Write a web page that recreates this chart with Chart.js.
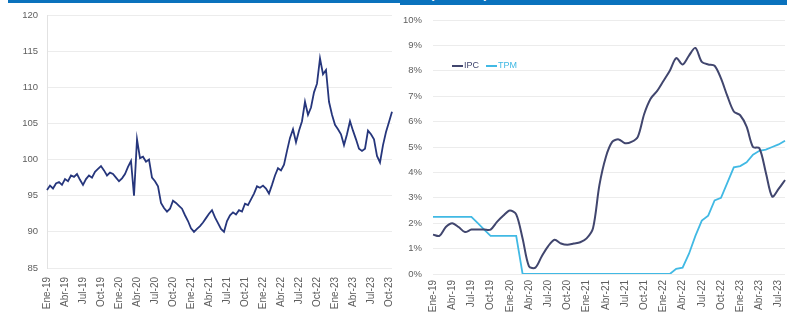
<!DOCTYPE html>
<html lang="es">
<head>
<meta charset="utf-8">
<title>Tipo de cambio, IPC y TPM</title>
<script src="https://cdn.jsdelivr.net/npm/chart.js@4/dist/chart.umd.min.js"></script>
<style>
  html, body { margin: 0; padding: 0; background: #ffffff; }
  #page { position: relative; width: 787px; height: 320px; overflow: hidden; background: #ffffff; }
  .band { position: absolute; background: #0a72bd; }
  #bandLeft { left: 8px; top: 0; width: 392px; height: 3px; }
  #bandRight { left: 400px; top: 0; width: 387px; height: 5px; overflow: hidden; }
  #bandTitle { position: absolute; left: 30px; top: -13px; font: bold 13px/13px "Liberation Sans", Arial, sans-serif; color: #ffffff; white-space: nowrap; }
  #leftBox { position: absolute; left: 0; top: 0; width: 397px; height: 320px; }
  #rightBox { position: absolute; left: 397px; top: 0; width: 390px; height: 320px; }
  #legend { position: absolute; left: 452px; top: 59px; font: 9px/12px "Liberation Sans", Arial, sans-serif; white-space: nowrap; }
  #legend span.item { display: inline-block; margin-right: 7px; }
  #legend i { display: inline-block; width: 11px; height: 2px; vertical-align: middle; margin-right: 1px; }
</style>
</head>
<body>
<div id="page">
  <div id="leftBox"><canvas id="leftChart" width="397" height="320"></canvas></div>
  <div id="rightBox"><canvas id="rightChart" width="390" height="320"></canvas></div>
  <div class="band" id="bandLeft"></div>
  <div class="band" id="bandRight"><div id="bandTitle">(% anual)</div></div>
  <div id="legend"></div>
</div>
<script>
// Month abbreviations used for the category labels
const mesesAbr = ['Ene','Feb','Mar','Abr','May','Jun','Jul','Ago','Sep','Oct','Nov','Dic'];

// Left panel: exchange-rate index, two readings per month, Ene-19 .. Oct-23
const indiceTC = [
  95.8, 96.4, 96.0, 96.7, 96.9, 96.5, 97.3, 97.0, 97.8, 97.6,
  98.0, 97.2, 96.5, 97.3, 97.8, 97.5, 98.3, 98.7, 99.1, 98.5,
  97.8, 98.2, 98.0, 97.5, 97.0, 97.4, 98.0, 99.0, 99.8, 95.0,
  102.8, 100.2, 100.4, 99.7, 100.0, 97.5, 97.0, 96.3, 94.0, 93.3,
  92.8, 93.2, 94.3, 94.0, 93.6, 93.2, 92.3, 91.5, 90.5, 90.0,
  90.4, 90.8, 91.3, 91.9, 92.5, 93.0, 92.0, 91.2, 90.4, 90.0,
  91.5, 92.3, 92.7, 92.4, 93.0, 92.8, 93.9, 93.7, 94.5, 95.3,
  96.3, 96.1, 96.4, 96.0, 95.3, 96.5, 97.8, 98.8, 98.5, 99.3,
  101.2, 103.0, 104.2, 102.4, 104.0, 105.3, 108.0, 106.2, 107.2, 109.3,
  110.5, 114.0, 111.8, 112.4, 108.0, 106.2, 104.8, 104.2, 103.5, 102.0,
  103.5, 105.3, 104.0, 102.8, 101.5, 101.2, 101.5, 104.0, 103.5, 102.8,
  100.5, 99.6, 102.0, 103.8, 105.2, 106.6
];
const indiceTicks = [85, 90, 95, 100, 105, 110, 115, 120];

// Right panel: monthly inflation (IPC) and policy rate (TPM), % , Ene-19 .. Ago-23
const ipc = [
  1.55, 1.5, 1.85, 2.0, 1.85, 1.65, 1.75, 1.75, 1.75, 1.75,
  2.05, 2.3, 2.5, 2.35, 1.4, 0.3, 0.25, 0.7, 1.1, 1.35,
  1.2, 1.15, 1.2, 1.25, 1.4, 1.8, 3.5, 4.6, 5.2, 5.3,
  5.15, 5.2, 5.4, 6.3, 6.9, 7.2, 7.6, 8.0, 8.5, 8.25,
  8.6, 8.9, 8.35, 8.25, 8.2, 7.7, 7.0, 6.4, 6.25, 5.8,
  5.0, 4.95, 4.0, 3.05, 3.35, 3.7
];
const tpm = [
  2.25, 2.25, 2.25, 2.25, 2.25, 2.25, 2.25, 2.0, 1.75, 1.5,
  1.5, 1.5, 1.5, 1.5, 0, 0, 0, 0, 0, 0,
  0, 0, 0, 0, 0, 0, 0, 0, 0, 0,
  0, 0, 0, 0, 0, 0, 0, 0, 0.2, 0.25,
  0.8, 1.5, 2.1, 2.3, 2.9, 3.0, 3.6, 4.2, 4.25, 4.4,
  4.7, 4.85, 4.9, 5.0, 5.1, 5.25
];
const pctTicks = [0, 1, 2, 3, 4, 5, 6, 7, 8, 9, 10];

const colores = { indice: '#26367c', ipc: '#41466e', tpm: '#41b9e4', grid: '#ececec', texto: '#5e5e5e' };
const fuente = { family: '"Liberation Sans", Arial, sans-serif', size: 10 };

// Category labels: "Mmm-AA", repeated per reading within the month
function etiquetas(nMeses, porMes) {
  const out = [];
  for (let m = 0; m < nMeses; m++) {
    const lab = mesesAbr[m % 12] + '-' + String(19 + Math.floor(m / 12));
    for (let k = 0; k < porMes; k++) out.push(lab);
  }
  return out;
}
const catIndice = etiquetas(58, 2);
const catTasas = etiquetas(56, 1);

// Shared x axis: quarterly labels, vertical text, no extra side padding
function ejeX(cada, padding, alto) {
  return {
    type: 'category',
    offset: false,
    grid: { display: false, drawTicks: false },
    border: { display: false },
    afterBuildTicks: s => { s.ticks = s.ticks.filter(t => t.value % cada === 0); },
    afterFit: s => { s.height = alto; s.paddingLeft = 0; s.paddingRight = 0; },
    ticks: { autoSkip: false, minRotation: 90, maxRotation: 90, padding: padding, color: colores.texto, font: fuente,
      callback: function (v) { return this.getLabelForValue(v); } }
  };
}

new Chart(document.getElementById('leftChart'), {
  type: 'line',
  data: {
    labels: catIndice,
    datasets: [{ data: indiceTC, borderColor: colores.indice, borderWidth: 1.8, pointRadius: 0, tension: 0 }]
  },
  options: {
    responsive: false, animation: false,
    layout: { padding: { left: 0, top: 15, right: 5, bottom: 0 } },
    plugins: { legend: { display: false }, tooltip: { enabled: false } },
    scales: {
      x: ejeX(6, 9, 52),
      y: {
        min: 85, max: 120,
        afterBuildTicks: s => { s.ticks = indiceTicks.map(v => ({ value: v })); },
        afterFit: s => { s.width = 47; },
        grid: { color: colores.grid, drawTicks: false },
        border: { display: true, color: '#e2e2e2' },
        ticks: { padding: 9, color: colores.texto, font: { family: fuente.family, size: 9.5 } }
      }
    }
  }
});

new Chart(document.getElementById('rightChart'), {
  type: 'line',
  data: {
    labels: catTasas,
    datasets: [
      { label: 'IPC', data: ipc, borderColor: colores.ipc, borderWidth: 2, pointRadius: 0, tension: 0.3 },
      { label: 'TPM', data: tpm, borderColor: colores.tpm, borderWidth: 1.8, pointRadius: 0, tension: 0 }
    ]
  },
  options: {
    responsive: false, animation: false,
    layout: { padding: { left: 0, top: 20, right: 2, bottom: 0 } },
    plugins: { legend: { display: false }, tooltip: { enabled: false } },
    scales: {
      x: ejeX(3, 6, 46),
      y: {
        min: 0, max: 10,
        afterBuildTicks: s => { s.ticks = pctTicks.map(v => ({ value: v })); },
        afterFit: s => { s.width = 36; },
        grid: { color: colores.grid, drawTicks: false },
        border: { display: false },
        ticks: { padding: 11, color: colores.texto, font: { family: fuente.family, size: 9.5 }, callback: v => v + '%' }
      }
    }
  }
});

// Legend for the right panel, built from the dataset names and colours
const leyenda = document.getElementById('legend');
[['IPC', colores.ipc], ['TPM', colores.tpm]].forEach(([nombre, color]) => {
  const it = document.createElement('span');
  it.className = 'item';
  it.style.color = color;
  it.innerHTML = '<i style="background:' + color + '"></i>' + nombre;
  leyenda.appendChild(it);
});
</script>
</body>
</html>
